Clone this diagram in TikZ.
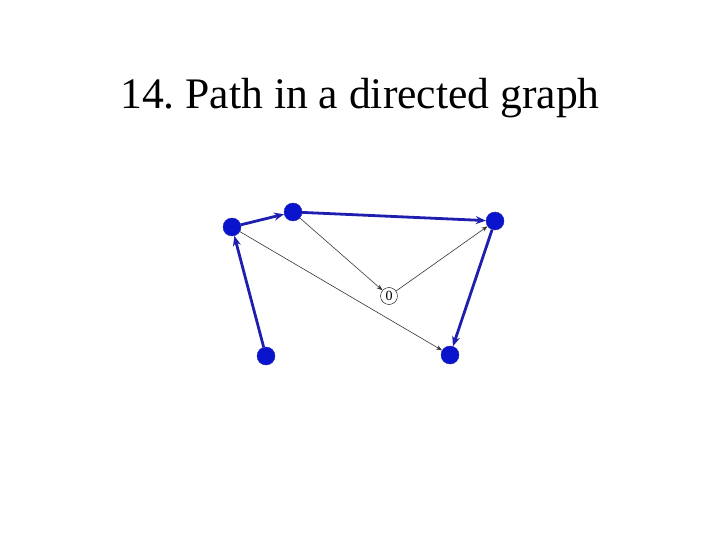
\documentclass[tikz,border=0pt]{standalone}
\usepackage{fontspec}
\setmainfont{Liberation Serif}
\usetikzlibrary{arrows.meta}
\definecolor{vblue}{RGB}{10,20,205}
\definecolor{eblue}{RGB}{30,30,175}

\begin{document}
\frenchspacing
\begin{tikzpicture}[x=1pt, y=-1pt,
    vertex/.style={circle, fill=vblue, draw=eblue, inner sep=0pt, minimum size=18pt},
    zero/.style={circle, draw=black, thin, inner sep=0pt, minimum size=17pt, font=\fontsize{14}{15}\selectfont},
    pathedge/.style={draw=eblue, line width=2.8pt, -{Stealth[length=10pt, width=8pt]}},
    plainedge/.style={draw=black!80, line width=0.6pt, -{Stealth[length=6pt, width=4.5pt]}}]
    \useasboundingbox (0,0) rectangle (720,540);
    \node[anchor=base] (title) at (360,109) {\fontsize{43.6}{50}\selectfont 14. Path in a directed graph};
    % vertices
    \node[vertex] (A) at (232,227) {};
    \node[vertex] (B) at (293,212) {};
    \node[vertex] (C) at (495,221) {};
    \node[vertex] (D) at (450,355) {};
    \node[vertex] (E) at (266,356) {};
    \node[zero] (O) at (389,296) {0};
    % thin edges
    \draw[plainedge] (A) -- (D);
    \draw[plainedge] (B) -- (O);
    \draw[plainedge] (O) -- (C);
    % the path
    \draw[pathedge] (E) -- (A);
    \draw[pathedge] (A) -- (B);
    \draw[pathedge] (B) -- (C);
    \draw[pathedge] (C) -- (D);
\end{tikzpicture}
\end{document}
